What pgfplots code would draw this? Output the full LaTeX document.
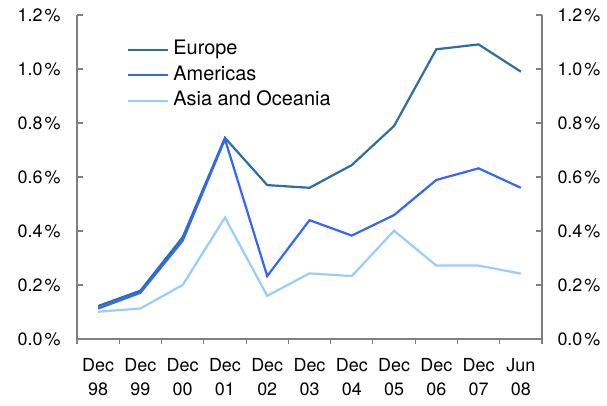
\documentclass[border=0pt]{standalone}
\usepackage{pgfplots}
\pgfplotsset{compat=1.18}
\usepackage{fontspec}
\setmainfont{TeX Gyre Heros}
\definecolor{eur}{HTML}{2E6DA0}
\definecolor{ame}{HTML}{3366FF}
\definecolor{asi}{HTML}{99CCFF}
\definecolor{axg}{HTML}{808080}
\begin{document}
\begin{tikzpicture}
\pgfplotsset{
  common/.style={
    at={(77bp,67bp)}, anchor=south west,
    scale only axis, width=465bp, height=324bp,
    xmin=-0.5, xmax=10.5, ymin=0, ymax=1.2,
    ytick={0,0.2,0.4,0.6,0.8,1.0,1.2},
    /pgf/number format/assume math mode=true,
    yticklabel={\pgfmathprintnumber[fixed,fixed zerofill,precision=1]{\tick}\kern2bp\%},
    tick align=inside, major tick length=6bp,
    axis line style={axg, line width=1.1bp, -},
    tick style={axg, line width=1.1bp},
    tick label style={font=\fontsize{18}{24}\selectfont, text=black},
  }
}
\begin{axis}[common,
  axis y line*=left, axis x line*=bottom,
  yticklabel style={xshift=-13bp},
  xtick={-0.5,0.5,...,10.5}, xticklabels={},
  xtick style={yshift=-5bp},
  extra x ticks={0,1,2,3,4,5,6,7,8,9,10},
  extra x tick labels={{Dec\\98},{Dec\\99},{Dec\\00},{Dec\\01},{Dec\\02},{Dec\\03},{Dec\\04},{Dec\\05},{Dec\\06},{Dec\\07},{Jun\\08}},
  extra x tick style={major tick length=0pt, xticklabel style={align=center, yshift=-15.5bp}},
  legend style={at={(axis description cs:0.1075,0.921)}, anchor=north west, draw=none, fill=none,
    inner sep=0pt, nodes={inner sep=0pt, text height=14bp, text depth=4bp},
    font=\fontsize{20}{23}\selectfont, row sep=7.5bp, column sep=4bp, cells={anchor=west}},
  legend cell align=left,
  legend image code/.code={\draw[#1] (0bp,0bp) -- (40bp,0bp);},
]
\addplot[eur, line width=2.2bp] coordinates {(0,0.122)(1,0.179)(2,0.377)(3,0.745)(4,0.57)(5,0.56)(6,0.644)(7,0.789)(8,1.073)(9,1.091)(10,0.99)};
\addlegendentry{Europe}
\addplot[ame, line width=2.2bp] coordinates {(0,0.113)(1,0.171)(2,0.364)(3,0.74)(4,0.233)(5,0.44)(6,0.383)(7,0.459)(8,0.589)(9,0.632)(10,0.56)};
\addlegendentry{Americas}
\addplot[asi, line width=2.2bp] coordinates {(0,0.101)(1,0.113)(2,0.2)(3,0.45)(4,0.16)(5,0.243)(6,0.233)(7,0.401)(8,0.272)(9,0.272)(10,0.242)};
\addlegendentry{Asia and Oceania}
\end{axis}
\begin{axis}[common, axis x line=none, axis y line*=right, yticklabel style={xshift=12bp}]
\addplot[draw=none] coordinates {(0,0)};
\end{axis}
\pgfresetboundingbox
\path[use as bounding box] (0,0) rectangle (607bp,406bp);
\end{tikzpicture}
\end{document}
